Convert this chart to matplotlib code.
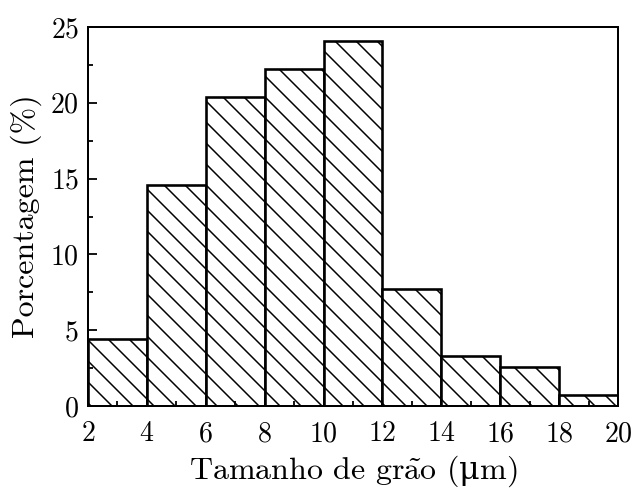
import numpy as np
from matplotlib import pyplot as plt
from matplotlib.ticker import MultipleLocator

bin_edges = [2, 4, 6, 8, 10, 12, 14, 16, 18, 20]
percent = [4.4, 14.6, 20.4, 22.2, 24.1, 7.7, 3.3, 2.6, 0.75]

# dpi chosen so that the hatch spacing matches the reference
dpi = 126.6


def px(v):
    return v * 72 / dpi


plt.rcParams['font.family'] = ['cmr10', 'DejaVu Serif']
plt.rcParams['mathtext.fontset'] = 'custom'
plt.rcParams['mathtext.rm'] = 'cmr10'
plt.rcParams['mathtext.it'] = 'cmmi10'
plt.rcParams['mathtext.sf'] = 'DejaVu Serif'
plt.rcParams['axes.unicode_minus'] = False
plt.rcParams['axes.formatter.use_mathtext'] = True
plt.rcParams['hatch.linewidth'] = px(1.5)

fig = plt.figure(figsize=(633 / dpi, 490 / dpi), dpi=dpi)
ax = fig.add_axes([88 / 633, 1 - 406 / 490, 530 / 633, 379 / 490])

left = np.array(bin_edges[:-1])
width = np.diff(bin_edges)
ax.bar(left, percent, width=width, align='edge', color='white',
       edgecolor='black', linewidth=px(2.6), hatch='\\\\')

ax.set_xlim(2, 20)
ax.set_ylim(0, 25)
ax.xaxis.set_major_locator(MultipleLocator(2))
ax.xaxis.set_minor_locator(MultipleLocator(1))
ax.yaxis.set_major_locator(MultipleLocator(5))
ax.yaxis.set_minor_locator(MultipleLocator(2.5))
ax.tick_params(which='both', direction='in', labelsize=px(28), width=px(1.8))
ax.tick_params(which='major', length=px(9))
ax.tick_params(axis='x', which='major', pad=px(15))
ax.tick_params(axis='y', which='major', pad=px(9))
ax.tick_params(which='minor', length=px(5))
for s in ax.spines.values():
    s.set_linewidth(px(2))

ax.set_xlabel(r'Tamanho de gr$\tilde{\mathrm{a}}$o ($\mathsf{\mu}$m)', fontsize=px(32), labelpad=px(6))
ax.set_ylabel('Porcentagem (%)', fontsize=px(32), labelpad=px(8))

fig.savefig('out.png', dpi=dpi)
